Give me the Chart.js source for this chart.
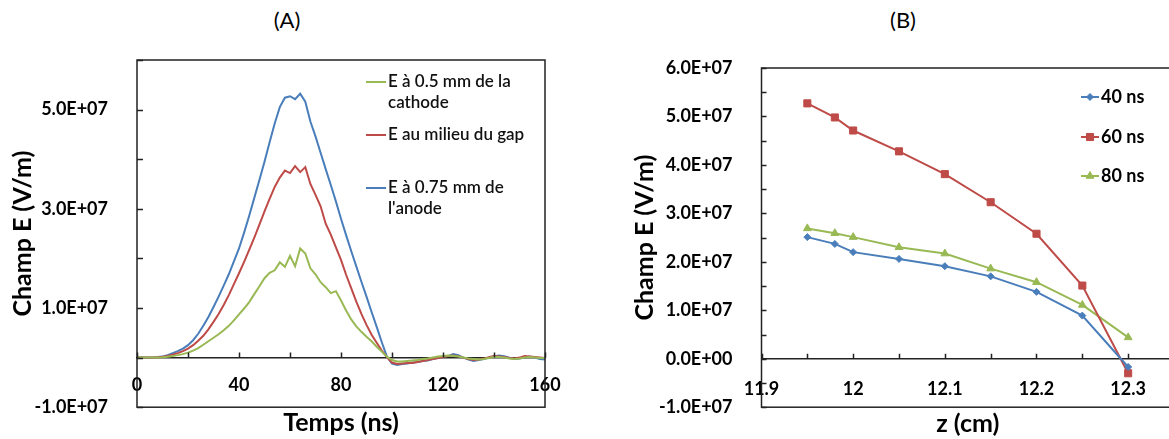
<!DOCTYPE html>
<html>
<head>
<meta charset="utf-8">
<script src="https://cdn.jsdelivr.net/npm/chart.js@4.4.1/dist/chart.umd.min.js"></script>
<style>
  body { margin: 0; width: 1169px; height: 439px; overflow: hidden; background: #fff; position: relative; font-family: Lato, sans-serif; }
  canvas { position: absolute; top: 0; }
  #chartA { left: 0; }
  #chartB { left: 600px; }
  .panel { position: absolute; top: 6px; font-size: 22px; line-height: 28px; transform: translateX(-50%); color: #000; }
</style>
</head>
<body>
<div class="panel" style="left:287px">(A)</div>
<div class="panel" style="left:903px">(B)</div>
<canvas id="chartA" width="580" height="439"></canvas>
<canvas id="chartB" width="600" height="439"></canvas>
<script>
// (A) champ E vs temps, valeurs en 1e7 V/m
const times = [
  0, 2, 4, 6, 8, 10, 12, 14, 16, 18,
  20, 22, 24, 26, 28, 30, 32, 34, 36, 38,
  40, 42, 44, 46, 48, 50, 52, 54, 56, 58,
  60, 62, 64, 66, 68, 70, 72, 74, 76, 78,
  80, 82, 84, 86, 88, 90, 92, 94, 96, 98,
  100, 102, 104, 106, 108, 110, 112, 114, 116, 118,
  120, 122, 124, 126, 128, 130, 132, 134, 136, 138,
  140, 142, 144, 146, 148, 150, 152, 154, 156, 158,
  160
];
const eCathode = [
  0, 0, 0, 0, 0, 0.005, 0.015, 0.03, 0.05, 0.07,
  0.1, 0.14, 0.19, 0.26, 0.33, 0.4, 0.47, 0.55, 0.64, 0.75,
  0.87, 0.99, 1.12, 1.28, 1.44, 1.6, 1.71, 1.76, 1.92, 1.83,
  2.05, 1.84, 2.2, 2.1, 1.8, 1.68, 1.52, 1.42, 1.3, 1.34,
  1.15, 0.95, 0.77, 0.63, 0.52, 0.42, 0.33, 0.22, 0.12, 0.02,
  -0.05, -0.08, -0.08, -0.07, -0.06, -0.05, -0.03, -0.02, 0, 0.02,
  0.03, 0.04, 0.03, 0.02, 0, -0.02, -0.03, -0.04, -0.03, -0.01,
  0.01, 0.01, 0, -0.02, -0.03, -0.02, 0, 0.01, 0, -0.01,
  -0.01
];
const eMilieu = [
  0, 0, 0, 0, 0.005, 0.015, 0.035, 0.06, 0.09, 0.13,
  0.18, 0.25, 0.34, 0.44, 0.57, 0.72, 0.88, 1.06, 1.26, 1.48,
  1.7, 1.93, 2.17, 2.42, 2.68, 2.95, 3.2, 3.44, 3.63, 3.77,
  3.72, 3.86, 3.74, 3.84, 3.5, 3.28, 3.05, 2.7, 2.48, 2.22,
  1.97, 1.67, 1.4, 1.13, 0.88, 0.66, 0.46, 0.3, 0.14, 0.01,
  -0.1, -0.13, -0.12, -0.11, -0.11, -0.09, -0.07, -0.05, -0.03, -0.01,
  0.01, 0.03, 0.04, 0.03, 0, -0.03, -0.05, -0.04, -0.02, 0.01,
  0.03, 0.02, 0.01, -0.01, -0.02, 0, 0.03, 0.02, 0.01, 0,
  -0.01
];
const eAnode = [
  0, 0, 0, 0, 0.01, 0.02, 0.05, 0.09, 0.13, 0.18,
  0.25, 0.35, 0.48, 0.64, 0.82, 1.02, 1.23, 1.45, 1.68, 1.94,
  2.2, 2.52, 2.86, 3.22, 3.58, 3.95, 4.34, 4.72, 5.05, 5.24,
  5.27, 5.21, 5.32, 5.16, 4.76, 4.46, 4.13, 3.8, 3.48, 3.15,
  2.8, 2.47, 2.15, 1.84, 1.53, 1.23, 0.92, 0.62, 0.31, 0.02,
  -0.12, -0.15, -0.13, -0.12, -0.1, -0.09, -0.07, -0.06, -0.03, -0.01,
  0.02, 0.03, 0.07, 0.05, 0, -0.04, -0.07, -0.05, -0.03, 0,
  0.03, 0.04, 0.03, 0, -0.03, -0.02, 0, 0.02, 0, -0.03,
  -0.04
];

// (B) champ E vs z, valeurs en 1e7 V/m
const zPos = [11.95, 11.98, 12.0, 12.05, 12.1, 12.15, 12.2, 12.25, 12.3];
const e40ns = [2.51, 2.37, 2.20, 2.06, 1.91, 1.70, 1.38, 0.89, -0.17];
const e60ns = [5.27, 4.98, 4.71, 4.28, 3.81, 3.23, 2.58, 1.51, -0.30];
const e80ns = [2.69, 2.59, 2.51, 2.30, 2.17, 1.86, 1.58, 1.11, 0.44];

const legendA = [['E à 0.5 mm de la', 'cathode'], ['E au milieu du gap'], ['E à 0.75 mm de', "l'anode"]];
const legendB = [['40 ns'], ['60 ns'], ['80 ns']];

const blue = '#4a7ebb', red = '#be4b48', green = '#98b954';

Chart.defaults.font.family = 'Lato, "Open Sans", sans-serif';
Chart.defaults.color = '#000';

function sci(v) {
  if (Math.abs(v) < 1e-9) return '0.0E+00';
  const parts = (v * 1e7).toExponential(1).split('e');
  const exp = parseInt(parts[1], 10);
  return parts[0] + 'E' + (exp < 0 ? '-' : '+') + String(Math.abs(exp)).padStart(2, '0');
}

// box around the plot, inner tick marks and the legend
const frame = {
  id: 'frame',
  afterDraw(chart, args, opts) {
    const {ctx, chartArea: a, scales} = chart;
    ctx.save();
    ctx.strokeStyle = '#222';
    ctx.lineWidth = 1.5;
    ctx.strokeRect(a.left, a.top, a.right - a.left, a.bottom - a.top);
    ctx.beginPath();
    scales.y.ticks.forEach(t => {
      const py = Math.round(scales.y.getPixelForValue(t.value)) + 0.5;
      ctx.moveTo(a.left, py);
      ctx.lineTo(a.left + opts.yTick, py);
    });
    const y0 = scales.y.getPixelForValue(0);
    scales.x.ticks.forEach(t => {
      const px = Math.round(scales.x.getPixelForValue(t.value)) + 0.5;
      ctx.moveTo(px, y0);
      ctx.lineTo(px, y0 - opts.xTick);
    });
    ctx.stroke();

    const lg = opts.legend;
    ctx.font = lg.font;
    ctx.textBaseline = 'middle';
    ctx.textAlign = 'left';
    chart.data.datasets.forEach((ds, i) => {
      const y = lg.ys[i];
      ctx.strokeStyle = ds.borderColor;
      ctx.lineWidth = 2;
      ctx.beginPath();
      ctx.moveTo(lg.x0, y);
      ctx.lineTo(lg.x1, y);
      ctx.stroke();
      if (lg.markers && Chart.helpers && Chart.helpers.drawPoint) {
        ctx.fillStyle = ds.borderColor;
        ctx.lineWidth = 1;
        Chart.helpers.drawPoint(ctx, {pointStyle: ds.pointStyle, radius: ds.pointRadius, rotation: 0, borderWidth: 1}, (lg.x0 + lg.x1) / 2, y);
      }
      ctx.fillStyle = lg.color;
      lg.texts[i].forEach((line, k) => ctx.fillText(line, lg.tx, y + k * lg.lh));
    });
    ctx.restore();
  }
};

const tickFont = {size: 18, weight: 'bold'};
const titleFont = {size: 25, weight: 'bold'};

function lineSet(label, data, color) {
  return {label: label, data: data, borderColor: color, backgroundColor: color,
    borderWidth: 2, pointRadius: 0, tension: 0, xAxisID: 'x', yAxisID: 'y'};
}

const chartA = new Chart(document.getElementById('chartA'), {
  type: 'line',
  data: {
    labels: times,
    datasets: [
      lineSet(legendA[0].join(' '), eCathode, green),
      lineSet(legendA[1].join(' '), eMilieu, red),
      lineSet(legendA[2].join(' '), eAnode, blue)
    ]
  },
  options: {
    responsive: false,
    animation: false,
    layout: {padding: {left: 0, top: 60, right: 35, bottom: 0}},
    scales: {
      x: {
        type: 'linear', min: 0, max: 160, position: {y: 0},
        grid: {display: false},
        border: {display: true, color: '#222', width: 1.5},
        ticks: {stepSize: 20, autoSkip: false, maxRotation: 0, padding: 9, font: tickFont,
          callback: v => (v % 40 === 0 ? String(v) : '')}
      },
      xt: {
        type: 'linear', position: 'bottom',
        grid: {display: false}, border: {display: false}, ticks: {display: false},
        title: {display: true, text: 'Temps (ns)', font: titleFont, padding: 0},
        afterFit: s => { s.height = 31; }
      },
      y: {
        type: 'linear', min: -1, max: 6, position: 'left',
        grid: {display: false}, border: {display: false},
        ticks: {stepSize: 1, padding: 21, font: tickFont,
          callback: v => (Math.abs(v % 2) === 1 ? sci(v) : '')},
        title: {display: true, text: 'Champ E (V/m)', font: titleFont, padding: {top: 8, bottom: 0}},
        afterFit: s => { s.width = 137; }
      }
    },
    plugins: {
      legend: {display: false},
      tooltip: {enabled: false},
      frame: {yTick: 6, xTick: 5,
        legend: {x0: 366, x1: 386, tx: 388, ys: [82, 135, 188], lh: 21, font: '600 17px Lato', color: '#111', texts: legendA, markers: false}}
    }
  },
  plugins: [frame]
});

function markSet(label, data, color, style, radius) {
  return {label: label, data: data, borderColor: color, backgroundColor: color,
    pointBackgroundColor: color, pointBorderColor: color, pointStyle: style, pointRadius: radius,
    pointBorderWidth: 1, borderWidth: 2, tension: 0, xAxisID: 'x', yAxisID: 'y'};
}

const chartB = new Chart(document.getElementById('chartB'), {
  type: 'line',
  data: {
    labels: zPos,
    datasets: [
      markSet(legendB[0][0], e40ns, blue, 'rectRot', 3.5),
      markSet(legendB[1][0], e60ns, red, 'rect', 5),
      markSet(legendB[2][0], e80ns, green, 'triangle', 4.5)
    ]
  },
  options: {
    responsive: false,
    animation: false,
    layout: {padding: {left: 0, top: 68, right: 26, bottom: 0}},
    scales: {
      x: {
        type: 'linear', min: 11.9, max: 12.35, position: {y: 0},
        grid: {display: false},
        border: {display: true, color: '#222', width: 1.5},
        ticks: {stepSize: 0.05, autoSkip: false, maxRotation: 0, padding: 12, font: tickFont,
          callback: v => (Math.round(v * 20) % 2 === 0 ? String(Math.round(v * 10) / 10) : '')}
      },
      xt: {
        type: 'linear', position: 'bottom',
        grid: {display: false}, border: {display: false}, ticks: {display: false},
        title: {display: true, text: 'z (cm)', font: titleFont, padding: 0},
        afterFit: s => { s.height = 31.5; }
      },
      y: {
        type: 'linear', min: -1, max: 6, position: 'left',
        grid: {display: false}, border: {display: false},
        ticks: {stepSize: 0.5, padding: 21, font: tickFont,
          callback: v => (Number.isInteger(v) ? sci(v) : '')},
        title: {display: true, text: 'Champ E (V/m)', font: titleFont, padding: {top: 30, bottom: 0}},
        afterFit: s => { s.width = 161.5; }
      }
    },
    plugins: {
      legend: {display: false},
      tooltip: {enabled: false},
      frame: {yTick: 5, xTick: 5,
        legend: {x0: 481, x1: 499, tx: 501, ys: [97, 137, 176], lh: 21, font: 'bold 18px Lato', color: '#000', texts: legendB, markers: true}}
    }
  },
  plugins: [frame]
});
</script>
</body>
</html>
